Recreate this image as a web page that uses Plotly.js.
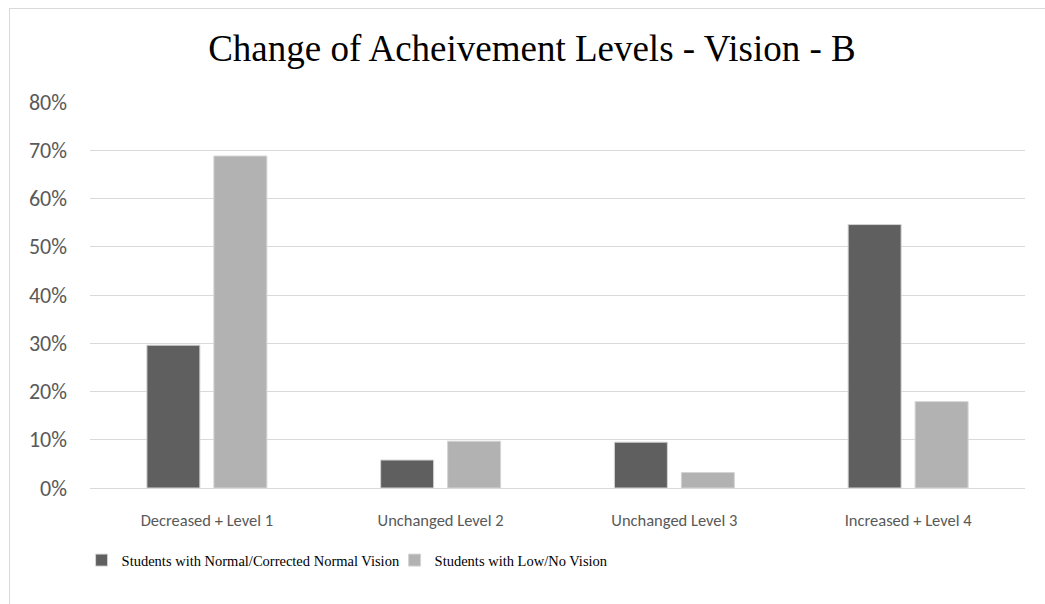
<!DOCTYPE html>
<html>
<head>
<meta charset="utf-8">
<script src="https://cdn.plot.ly/plotly-3.0.1.min.js"></script>
<style>
  html, body { margin: 0; padding: 0; background: #fff; overflow: hidden; }
  #frame { position: absolute; left: 9px; top: 8px; width: 1100px; height: 700px; border: 1px solid #d9d9d9; }
  #chart { position: absolute; left: 0; top: 0; width: 1045px; height: 604px; }
</style>
</head>
<body>
<div id="frame"></div>
<div id="chart"></div>
<script>
const categories = ["Decreased + Level 1", "Unchanged Level 2", "Unchanged Level 3", "Increased + Level 4"];
const seriesNames = ["Students with Normal/Corrected Normal Vision", "Students with Low/No Vision"];
const normalVision = [0.296, 0.058, 0.095, 0.546];
const lowVision = [0.688, 0.097, 0.032, 0.179];
const yTicks = [0, 0.1, 0.2, 0.3, 0.4, 0.5, 0.6, 0.7, 0.8];

const serif = '"Liberation Serif", "Times New Roman", "DejaVu Serif", serif';
const sans = 'Carlito, "Open Sans", "Noto Sans", sans-serif';

const traces = [
  {
    type: 'bar', name: seriesNames[0], x: categories, y: normalVision,
    marker: { color: '#5f5f5f', line: { color: '#d4d4d4', width: 1 } },
    hoverinfo: 'skip'
  },
  {
    type: 'bar', name: seriesNames[1], x: categories, y: lowVision,
    marker: { color: '#b2b2b2', line: { color: '#d4d4d4', width: 1 } },
    hoverinfo: 'skip'
  }
];

const layout = {
  width: 1045, height: 604,
  paper_bgcolor: 'rgba(0,0,0,0)', plot_bgcolor: 'rgba(0,0,0,0)',
  margin: { l: 90, r: 20, t: 102, b: 116 },
  barmode: 'group', bargap: 0.427, bargroupgap: 0.209,
  title: {
    text: 'Change of Acheivement Levels - Vision - B',
    font: { family: serif, size: 37, color: '#000' },
    x: 0.509, xanchor: 'center', y: 1 - 48 / 604, yanchor: 'middle'
  },
  xaxis: {
    type: 'category', showgrid: false, zeroline: false, showline: false,
    ticks: '', ticklabelstandoff: 20,
    tickfont: { family: sans, size: 16.5, color: '#595959' }
  },
  yaxis: {
    range: [0, 0.8], tickvals: yTicks, tickformat: '.0%',
    showgrid: true, gridcolor: '#d9d9d9', gridwidth: 1,
    zeroline: true, zerolinecolor: '#d9d9d9', zerolinewidth: 1,
    showline: false, ticks: '', ticklabelstandoff: 22,
    tickfont: { family: sans, size: 22, color: '#595959' }
  },
  legend: {
    orientation: 'h', x: -0.009, xanchor: 'left', y: -0.187, yanchor: 'middle',
    font: { family: serif, size: 14.5, color: '#000' },
    bgcolor: 'rgba(0,0,0,0)', traceorder: 'normal',
    entrywidth: 268, entrywidthmode: 'pixels'
  },
  showlegend: true
};

Plotly.newPlot('chart', traces, layout, { displayModeBar: false, staticPlot: true });
</script>
</body>
</html>
